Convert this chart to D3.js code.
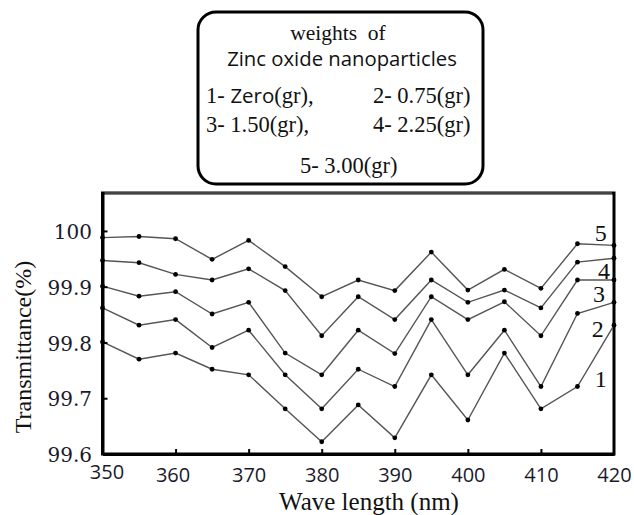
<!DOCTYPE html>
<html>
<head>
<meta charset="utf-8">
<script src="https://cdn.jsdelivr.net/npm/d3@7"></script>
<style>
  html, body { margin: 0; padding: 0; background: #fff; }
  svg { display: block; }
</style>
</head>
<body>
<svg id="chart" width="634" height="515"></svg>
<script>
// ---- data ----
const wavelengths = [350, 355, 360, 365, 370, 375, 380, 385, 390, 395, 400, 405, 410, 415, 420];
const series1 = [99.801, 99.770, 99.781, 99.752, 99.742, 99.681, 99.622, 99.688, 99.629, 99.742, 99.661, 99.781, 99.681, 99.721, 99.831];
const series2 = [99.862, 99.831, 99.841, 99.791, 99.822, 99.742, 99.681, 99.752, 99.721, 99.841, 99.742, 99.822, 99.721, 99.852, 99.872];
const series3 = [99.901, 99.883, 99.891, 99.851, 99.872, 99.781, 99.742, 99.822, 99.780, 99.882, 99.841, 99.873, 99.812, 99.912, 99.912];
const series4 = [99.947, 99.943, 99.922, 99.912, 99.932, 99.893, 99.812, 99.882, 99.841, 99.912, 99.872, 99.894, 99.862, 99.944, 99.951];
const series5 = [99.988, 99.990, 99.986, 99.949, 99.983, 99.936, 99.882, 99.912, 99.893, 99.962, 99.894, 99.931, 99.897, 99.977, 99.974];
const seriesNames = ["1", "2", "3", "4", "5"];
const xTickValues = [350, 360, 370, 380, 390, 400, 410, 420];
const yTickValues = [99.6, 99.7, 99.8, 99.9, 100];
const yTickLabels = ["99.6", "99.7", "99.8", "99.9", "100"];
const legendTitle = ["weights  of", "Zinc oxide nanoparticles"];
const xTitle = "Wave length (nm)";
const yTitle = "Transmittance(%)";

const allSeries = [series1, series2, series3, series4, series5];

// ---- layout ----
const svg = d3.select("#chart");
const L = 102.5, R = 614, T = 193, B = 454;
const x = d3.scaleLinear().domain([350, 420]).range([L, R]);
const y = d3.scaleLinear().domain([99.6, 100.068]).range([B, T]);

const serif = "'Liberation Serif', 'Times New Roman', serif";
const sans = "'Open Sans', 'Noto Sans', sans-serif";

// ---- frame ----
svg.append("path")
  .attr("d", `M${L},${T} L${R},${T} L${R},${B} L${L},${B} Z`)
  .attr("fill", "none").attr("stroke", "#000").attr("stroke-width", 3);
svg.append("path").attr("d", `M${L + 2},${T} L${R - 2},${T}`)
  .attr("stroke", "#444").attr("stroke-width", 2.2).attr("fill", "none");

// ---- lines and points ----
const line = d3.line().x((d, i) => x(wavelengths[i])).y(d => y(d));
const g = svg.append("g");
allSeries.forEach(s => {
  g.append("path").attr("d", line(s))
    .attr("fill", "none").attr("stroke", "#555").attr("stroke-width", 1.4);
  g.selectAll(null).data(s).enter().append("circle")
    .attr("cx", (d, i) => x(wavelengths[i])).attr("cy", d => y(d))
    .attr("r", 2.4).attr("fill", "#000");
});

// ---- axes (ticks + labels) ----
const yAxis = d3.axisLeft(y).tickValues(yTickValues)
  .tickFormat((d, i) => yTickLabels[i]).tickSizeInner(-5).tickSizeOuter(0).tickPadding(10);
const ya = svg.append("g").attr("transform", `translate(${L},0)`).call(yAxis);
ya.select(".domain").attr("stroke", "#000").attr("stroke-width", 3);
ya.selectAll(".tick line").attr("stroke", "#000").attr("stroke-width", 2);
ya.selectAll(".tick").filter(d => d === 99.6).select("line").remove();
ya.selectAll(".tick text").attr("font-family", "'DejaVu Serif', serif").attr("font-size", 20)
  .attr("fill", "#1a1a2a").attr("x", -10.5).attr("dy", "0.38em");

const xAxis = d3.axisBottom(x).tickValues(xTickValues).tickFormat(d3.format("d"))
  .tickSizeInner(-5).tickSizeOuter(0).tickPadding(12);
const xa = svg.append("g").attr("transform", `translate(0,${B})`).call(xAxis);
xa.select(".domain").attr("stroke", "#000").attr("stroke-width", 3);
xa.selectAll(".tick line").attr("stroke", "#000").attr("stroke-width", 2);
xa.selectAll(".tick").filter(d => d === 350 || d === 420).select("line").remove();
xa.selectAll(".tick text").attr("font-family", sans).attr("font-size", 20)
  .attr("fill", "#1a1a2a").attr("y", d => d === 350 ? 11 : 14).attr("dy", "0.71em")
  .attr("dx", d => d === 350 ? 4 : (d === 360 ? -3 : 0));

// ---- axis titles ----
svg.append("text").attr("x", 369).attr("y", 510).attr("text-anchor", "middle")
  .attr("font-family", serif).attr("font-size", 25).attr("fill", "#111").text(xTitle);
svg.append("text").attr("transform", "translate(31,347) rotate(-90)")
  .attr("text-anchor", "middle").attr("font-family", serif).attr("font-size", 24)
  .attr("fill", "#111").text(yTitle);

// ---- series labels ----
const labelPos = [[600.7, 386.5], [597.7, 336.5], [599, 301.5], [604, 279], [600.7, 240.5]];
seriesNames.forEach((n, i) => {
  svg.append("text").attr("x", labelPos[i][0]).attr("y", labelPos[i][1])
    .attr("text-anchor", "middle").attr("font-family", serif).attr("font-size", 24)
    .attr("fill", "#111").text(n);
});

// ---- legend box ----
const lg = svg.append("g");
lg.append("rect").attr("x", 198).attr("y", 12).attr("width", 285).attr("height", 172)
  .attr("rx", 18).attr("ry", 18).attr("fill", "#fff").attr("stroke", "#000").attr("stroke-width", 3);
lg.append("text").attr("x", 338).attr("y", 40).attr("text-anchor", "middle")
  .attr("font-family", serif).attr("font-size", 21.5).attr("fill", "#111")
  .attr("xml:space", "preserve").text(legendTitle[0]);
lg.append("text").attr("x", 342).attr("y", 66).attr("text-anchor", "middle")
  .attr("font-family", sans).attr("font-size", 20.3).attr("fill", "#111").text(legendTitle[1]);

function entry(xp, yp, parts) {
  const t = lg.append("text").attr("x", xp).attr("y", yp).attr("font-size", 22).attr("fill", "#111");
  parts.forEach(p => t.append("tspan").attr("font-family", p[1] ? sans : serif)
    .attr("font-size", p[1] ? 20.5 : 22.5).text(p[0]));
}
entry(206, 103, [["1- ", false], ["Zero", true], ["(gr),", false]]);
entry(373, 103, [["2- 0.75(gr)", false]]);
entry(206, 132, [["3- 1.50(gr),", false]]);
entry(373, 132, [["4- 2.25(gr)", false]]);
entry(300, 173, [["5- 3.00(gr)", false]]);
</script>
</body>
</html>
